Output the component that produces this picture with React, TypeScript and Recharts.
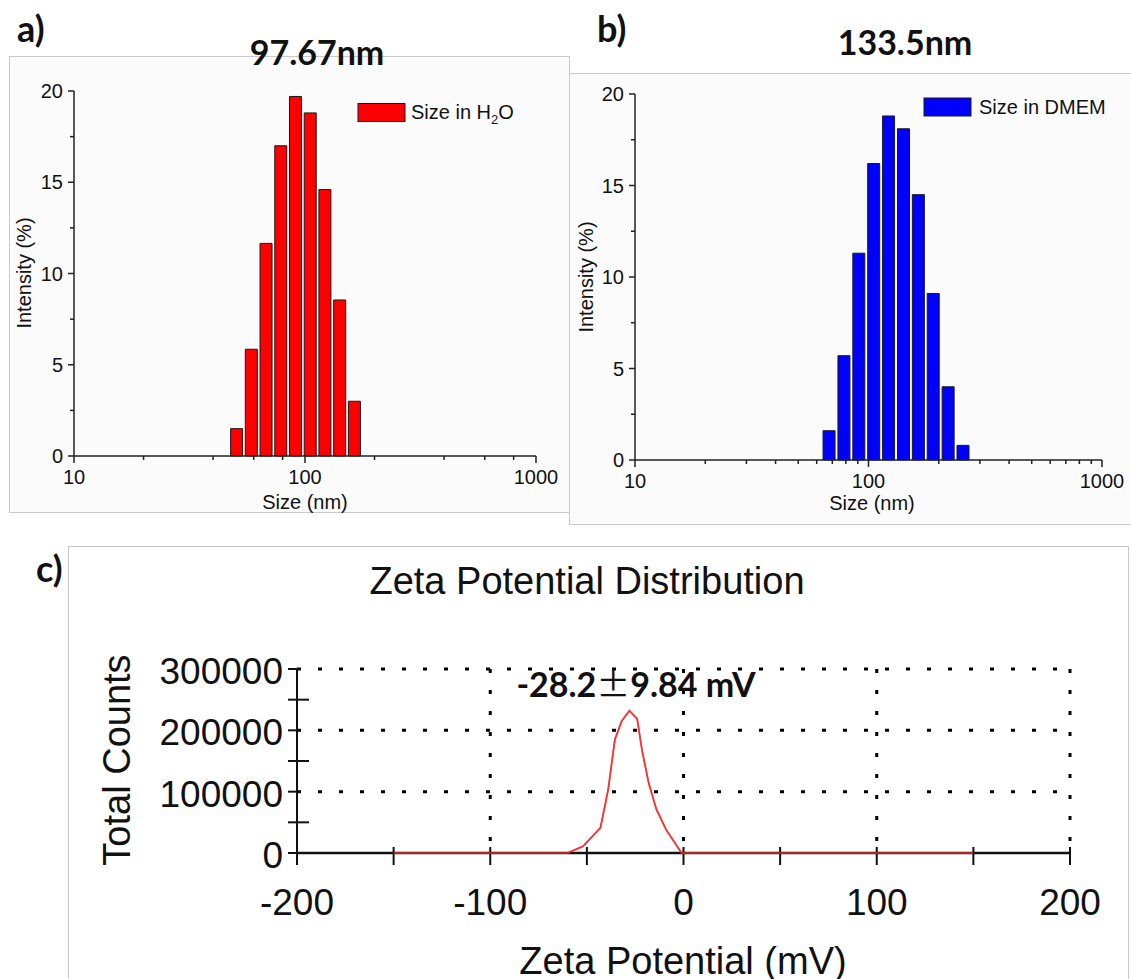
import React from "react";
import { BarChart, Bar, LineChart, Line, XAxis, YAxis, CartesianGrid } from "recharts";

// a) size distribution in water (Malvern bins, nm) and intensity (%)
const sizeBinsH2O = [50.75, 58.77, 68.06, 78.82, 91.28, 105.7, 122.4, 141.8, 164.2];
const intensityH2O = [1.5, 5.85, 11.65, 17.0, 19.7, 18.8, 14.6, 8.55, 3.0];

// b) size distribution in DMEM
const sizeBinsDMEM = [68.06, 78.82, 91.28, 105.7, 122.4, 141.8, 164.2, 190.1, 220.2, 255.0];
const intensityDMEM = [1.6, 5.7, 11.3, 16.2, 18.8, 18.1, 14.5, 9.1, 4.0, 0.8];

// c) zeta potential distribution
const zetaMv = [-150, -60, -52, -43, -39, -35.5, -32, -28, -24, -21.5, -18, -14, -9, -1, 4, 150];
const zetaCounts = [0, 0, 11000, 41000, 103000, 185000, 215000, 232000, 219000, 168000, 114000, 71000, 38000, 0, 0, 0];

// ticks
const pctTicks = [0, 2.5, 5, 7.5, 10, 12.5, 15, 17.5, 20];
const logMajor = [10, 100, 1000];
const logTicksA = [10, 20, 40, 60, 80, 100, 200, 400, 600, 800, 1000];
const logTicksB = [10, 20, 30, 40, 50, 60, 70, 80, 90, 100, 200, 300, 400, 500, 600, 700, 800, 900, 1000];
const zetaXTicks = [-200, -150, -100, -50, 0, 50, 100, 150, 200];
const countTicks = [0, 50000, 100000, 150000, 200000, 250000, 300000];

const h2oData = sizeBinsH2O.map((size, i) => ({ size, pct: intensityH2O[i] }));
const dmemData = sizeBinsDMEM.map((size, i) => ({ size, pct: intensityDMEM[i] }));
const zetaData = zetaMv.map((mv, i) => ({ mv, counts: zetaCounts[i] }));

const AXIS = "#222";
const SANS = "'Liberation Sans', Arial, Helvetica, sans-serif";
const BOLD = "Lato, 'Open Sans', sans-serif";

const logTick = (p: any) => {
  const { x, y, payload } = p;
  const major = logMajor.includes(payload.value);
  return (
    <g>
      <line x1={x} x2={x} y1={y} y2={y + (major ? 7 : 4)} stroke={AXIS} strokeWidth={1.5} />
      {major && (
        <text x={x} y={y + 28} textAnchor="middle" fontSize={20} fontFamily={SANS} fill="#111">
          {payload.value}
        </text>
      )}
    </g>
  );
};

const pctTick = (p: any) => {
  const { x, y, payload } = p;
  const major = payload.value % 5 === 0;
  return (
    <g>
      <line x1={x - (major ? 6 : 4)} x2={x} y1={y} y2={y} stroke={AXIS} strokeWidth={1.5} />
      {major && (
        <text x={x - 11} y={y + 7} textAnchor="end" fontSize={20} fontFamily={SANS} fill="#111">
          {payload.value}
        </text>
      )}
    </g>
  );
};

const zetaTick = (p: any) => {
  const { x, y, payload } = p;
  return (
    <g>
      <line x1={x} x2={x} y1={y - 6} y2={y + 12} stroke="#111" strokeWidth={2} />
      {payload.value % 100 === 0 && (
        <text x={x} y={y + 62} textAnchor="middle" fontSize={37} fontFamily={SANS} fill="#111">
          {payload.value}
        </text>
      )}
    </g>
  );
};

const countTick = (p: any) => {
  const { x, y, payload } = p;
  const major = payload.value % 100000 === 0;
  return (
    <g>
      <line x1={x - 9} x2={x + (major ? 4 : 12)} y1={y} y2={y} stroke="#111" strokeWidth={2} />
      {major && (
        <text x={x - 14} y={y + 15} textAnchor="end" fontSize={37} fontFamily={SANS} fill="#111">
          {payload.value}
        </text>
      )}
    </g>
  );
};

interface SizeChartProps {
  data: { size: number; pct: number }[];
  ticks: number[];
  color: string;
  width: number;
  height: number;
  top: number;
  right: number;
  yWidth: number;
  xHeight: number;
}

function SizeChart({ data, ticks, color, width, height, top, right, yWidth, xHeight }: SizeChartProps) {
  return (
    <BarChart width={width} height={height} data={data} margin={{ top, right, left: 0, bottom: 0 }}>
      <XAxis
        dataKey="size"
        type="number"
        scale="log"
        domain={[10, 1000]}
        ticks={ticks}
        interval={0}
        height={xHeight}
        tickSize={0}
        tickMargin={0}
        tickLine={false}
        axisLine={{ stroke: AXIS, strokeWidth: 1.5 }}
        tick={logTick}
      />
      <YAxis
        type="number"
        domain={[0, 20]}
        ticks={pctTicks}
        interval={0}
        width={yWidth}
        tickSize={0}
        tickMargin={0}
        tickLine={false}
        axisLine={{ stroke: AXIS, strokeWidth: 1.5 }}
        tick={pctTick}
      />
      <Bar dataKey="pct" fill={color} stroke="#1a1a1a" strokeWidth={1} barSize={12} isAnimationActive={false} />
    </BarChart>
  );
}

const zetaLine = (
  <Line
    dataKey="counts"
    type="linear"
    stroke="#ff2e2e"
    strokeOpacity={0.9}
    strokeWidth={1.6}
    dot={false}
    isAnimationActive={false}
  />
);

// axes, grid and curve of panel c
function ZetaFrame() {
  return (
    <LineChart width={1063} height={433} data={zetaData} margin={{ top: 123, right: 61, left: 0, bottom: 0 }}>
      <CartesianGrid
        horizontalValues={[100000, 200000, 300000]}
        verticalValues={[-100, 0, 100, 200]}
        stroke="#000"
        strokeWidth={3}
        strokeDasharray="4 17"
      />
      <XAxis
        dataKey="mv"
        type="number"
        domain={[-200, 200]}
        ticks={zetaXTicks}
        interval={0}
        height={126}
        tickSize={0}
        tickMargin={0}
        tickLine={false}
        axisLine={{ stroke: "#111", strokeWidth: 2.5 }}
        tick={zetaTick}
      />
      <YAxis
        type="number"
        domain={[0, 300000]}
        ticks={countTicks}
        interval={0}
        width={229}
        tickSize={0}
        tickMargin={0}
        tickLine={false}
        axisLine={{ stroke: "#111", strokeWidth: 2 }}
        tick={countTick}
      />
      {zetaLine}
    </LineChart>
  );
}

// the same curve laid again over the axis line (red sits on top of the black baseline)
function ZetaCurve() {
  return (
    <LineChart width={1063} height={433} data={zetaData} margin={{ top: 123, right: 61, left: 229, bottom: 126 }}>
      <XAxis dataKey="mv" type="number" domain={[-200, 200]} hide />
      <YAxis type="number" domain={[0, 300000]} hide />
      {zetaLine}
    </LineChart>
  );
}

const frame = (left: number, top: number, width: number, height: number, bg: string): React.CSSProperties => ({
  position: "absolute",
  left,
  top,
  width,
  height,
  boxSizing: "border-box",
  border: "1px solid #c9c9c9",
  background: bg,
});

export default function App() {
  return (
    <div style={{ position: "absolute", left: 0, top: 0, width: 1131, height: 979, background: "#fff", overflow: "hidden" }}>
      <div style={frame(9, 56, 561, 457, "#fbfbfb")} />
      <div style={frame(569, 73, 570, 452, "#fbfbfb")} />
      <div style={frame(68, 546, 1061, 450, "#fff")} />

      <div style={{ position: "absolute", left: 9, top: 57 }}>
        <SizeChart data={h2oData} ticks={logTicksA} color="#ff0000" width={561} height={456} top={34} right={34} yWidth={65} xHeight={57} />
      </div>
      <div style={{ position: "absolute", left: 569, top: 73 }}>
        <SizeChart data={dmemData} ticks={logTicksB} color="#0000ff" width={562} height={451} top={21} right={29} yWidth={66} xHeight={64} />
      </div>
      <div style={{ position: "absolute", left: 68, top: 546 }}>
        <ZetaFrame />
      </div>
      <div style={{ position: "absolute", left: 68, top: 546 }}>
        <ZetaCurve />
      </div>

      <svg width={1131} height={979} style={{ position: "absolute", left: 0, top: 0, pointerEvents: "none" }}>
        {/* panel letters and headline values */}
        <text x={17} y={42} fontSize={36} fontWeight={700} fontFamily={BOLD} fill="#111">a)</text>
        <text x={597} y={42} fontSize={36} fontWeight={700} fontFamily={BOLD} fill="#111">b)</text>
        <text x={36} y={582} fontSize={36} fontWeight={700} fontFamily={BOLD} fill="#111">c)</text>
        <text x={317} y={65} textAnchor="middle" fontSize={34} fontWeight={700} fontFamily={BOLD} fill="#111">97.67nm</text>
        <text x={905} y={55} textAnchor="middle" fontSize={34} fontWeight={700} fontFamily={BOLD} fill="#111">133.5nm</text>

        {/* panel a labels + legend */}
        <text x={305} y={509} textAnchor="middle" fontSize={20} fontFamily={SANS} fill="#111">Size (nm)</text>
        <text x={31} y={273} transform="rotate(-90 31 273)" textAnchor="middle" fontSize={20} fontFamily={SANS} fill="#111">Intensity (%)</text>
        <rect x={358} y={103.5} width={47} height={18} fill="#ff0000" stroke="#1a1a1a" strokeWidth={1} />
        <text x={411} y={119} fontSize={20} fontFamily={SANS} fill="#111">
          Size in H<tspan fontSize={13} dy={5}>2</tspan><tspan dy={-5}>O</tspan>
        </text>

        {/* panel b labels + legend */}
        <text x={872} y={510} textAnchor="middle" fontSize={20} fontFamily={SANS} fill="#111">Size (nm)</text>
        <text x={593} y={277} transform="rotate(-90 593 277)" textAnchor="middle" fontSize={20} fontFamily={SANS} fill="#111">Intensity (%)</text>
        <rect x={924} y={98} width={47} height={18} fill="#0000ff" stroke="#1a1a1a" strokeWidth={1} />
        <text x={979} y={114} fontSize={20} fontFamily={SANS} fill="#111">Size in DMEM</text>

        {/* panel c labels */}
        <text x={587} y={594} textAnchor="middle" fontSize={38} fontFamily={SANS} fill="#111">Zeta Potential Distribution</text>
        <text x={683} y={974} textAnchor="middle" fontSize={38} fontFamily={SANS} fill="#111">Zeta Potential (mV)</text>
        <text x={130} y={760} transform="rotate(-90 130 760)" textAnchor="middle" fontSize={38} fontFamily={SANS} fill="#111">Total Counts</text>
        <text x={636} y={697} textAnchor="middle" fontSize={34} fontWeight={700} fontFamily={BOLD} fill="#111">
          -28.2<tspan fontFamily="'Noto Sans CJK SC'" fontWeight={400}>±</tspan>9.84 mV
        </text>
      </svg>
    </div>
  );
}
